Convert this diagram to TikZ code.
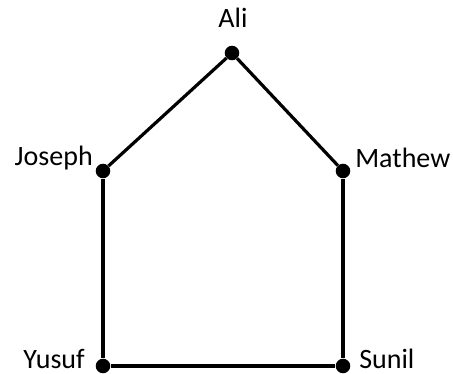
\documentclass[tikz,border=0pt]{standalone}
\usepackage{fontspec}
\setmainfont{Carlito}
\usetikzlibrary{positioning}
\tikzset{
  persondot/.style={circle,fill=black,inner sep=0pt,minimum size=10.9pt},
  personname/.style={inner sep=0pt,font=\fontsize{21pt}{24pt}\selectfont},
  every edge/.style={draw,line width=2.4pt},
}

\begin{document}
\begin{tikzpicture}[x=0.75pt,y=-0.75pt]
\useasboundingbox (0,0) rectangle (453,374);

\node[persondot] (ali) at (232,53) {};
\node[persondot] (joseph) at (103,171) {};
\node[persondot] (mathew) at (343,171) {};
\node[persondot] (yusuf) at (103,366) {};
\node[persondot] (sunil) at (343,366) {};

\node[personname,anchor=base] (lali) at (233,28) {Ali};
\node[personname,anchor=base east] (ljoseph) at (93,166) {Joseph};
\node[personname,anchor=base west] (lmathew) at (355,167) {Mathew};
\node[personname,anchor=base east] (lyusuf) at (85,368) {Yusuf};
\node[personname,anchor=base west] (lsunil) at (359,368) {Sunil};

\path
(ali) edge (joseph)
(ali) edge (mathew)
(joseph) edge (yusuf)
(mathew) edge (sunil)
(yusuf) edge (sunil);

\end{tikzpicture}
\end{document}
